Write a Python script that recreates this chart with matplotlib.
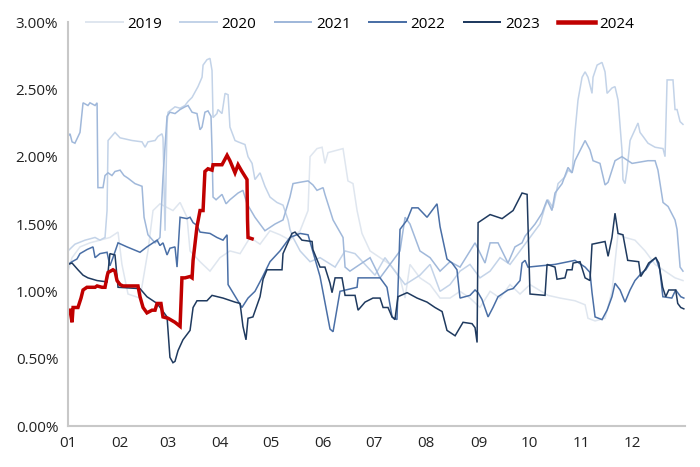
import matplotlib
matplotlib.use("Agg")
import matplotlib.pyplot as plt
from matplotlib.ticker import FuncFormatter

# (day of year, value in %)
s2019 = [(0,1.15),(2.4,1.25),(7.1,1.33),(13.0,1.36),(18.9,1.38),(24.8,1.40),(29.6,1.44),(31.9,1.20),(35.5,0.98),(42.6,0.95),
         (47.3,1.30),(50.3,1.60),(54.4,1.65),(62.1,1.60),(66.3,1.66),(70.4,1.55),(72.2,1.30),(78.1,1.22),(84.0,1.15),(89.9,1.25),
         (95.8,1.30),(101.8,1.28),(107.7,1.40),(113.6,1.35),(119.5,1.45),(125.4,1.42),(131.3,1.38),(137.3,1.45),(142.0,1.60),(143.2,2.00),
         (147.3,2.06),(150.3,2.07),(152.0,1.95),(153.8,2.03),(162.7,2.06),(165.6,1.82),(168.6,1.80),(171.0,1.60),(173.9,1.43),(178.7,1.30),
         (184.6,1.25),(190.5,1.20),(196.4,1.10),(199.4,0.95),(202.3,1.20),(208.2,1.10),(214.2,1.05),(220.1,0.95),(226.0,0.95),(231.9,1.00),
         (237.8,0.95),(243.7,0.88),(249.7,1.00),(255.6,0.95),(261.5,1.05),(267.4,0.98),(273.3,1.05),(284.0,0.97),(291.1,0.95),(299.9,0.93),
         (305.9,0.90),(307.6,0.80),(311.8,0.78),(317.7,0.80),(321.8,1.00),(325.4,1.43),(329.5,1.40),(335.4,1.38),(341.4,1.30),(347.3,1.20),
         (353.2,1.15),(359.1,1.10),(363.8,1.08)]

s2020 = [(0,1.30),(4.1,1.35),(10.1,1.38),(16.0,1.40),(18.9,1.38),(21.9,1.40),(23.1,1.60),(23.7,2.12),(27.8,2.18),(30.8,2.14),
         (37.9,2.12),(43.8,2.11),(45.6,2.07),(47.3,2.11),(51.5,2.12),(53.2,2.15),(55.6,2.17),(56.2,2.14),(57.4,1.45),(58.6,2.25),
         (59.2,2.33),(63.3,2.37),(66.3,2.36),(69.2,2.38),(71.0,2.41),(73.4,2.44),(76.9,2.52),(79.3,2.59),(79.9,2.68),(82.2,2.72),
         (84.0,2.73),(85.2,2.64),(85.8,2.29),(88.1,2.32),(88.7,2.35),(91.1,2.32),(92.9,2.47),(94.7,2.46),(95.8,2.22),(98.8,2.12),
         (100.6,2.11),(104.7,2.09),(106.5,2.00),(108.9,1.95),(110.6,1.83),(113.6,1.88),(116.5,1.78),(119.5,1.70),(123.6,1.66),(127.2,1.64),
         (130.2,1.53),(131.3,1.46),(133.1,1.40),(137.3,1.30),(143.2,1.22),(149.1,1.25),(158.0,1.18),(163.9,1.30),(169.8,1.28),(175.7,1.20),
         (181.6,1.12),(187.5,1.25),(193.4,1.15),(199.4,1.05),(208.2,1.12),(214.2,1.20),(220.1,1.00),(226.0,1.05),(231.9,1.15),(237.8,1.20),
         (243.7,1.10),(249.7,1.15),(255.6,1.25),(261.5,1.20),(267.4,1.30),(273.3,1.40),(279.2,1.50),(282.2,1.63),(284.0,1.68),(286.9,1.62),
         (289.9,1.80),(294.0,1.85),(295.8,1.90),(298.2,1.88),(299.9,2.18),(301.7,2.42),(304.1,2.59),(305.9,2.63),(307.6,2.59),(310.0,2.47),
         (310.6,2.59),(313.0,2.68),(315.9,2.70),(317.7,2.63),(318.9,2.47),(321.8,2.51),(323.6,2.52),(325.4,2.42),(327.7,2.05),(328.3,1.83),
         (329.5,1.80),(330.7,1.90),(332.5,2.12),(337.2,2.25),(338.4,2.18),(340.2,2.15),(343.1,2.10),(347.3,2.07),(352.0,2.06),(353.2,2.00),
         (354.4,2.57),(357.9,2.57),(359.1,2.35),(360.3,2.35),(362.1,2.26),(363.8,2.24)]

s2021 = [(0,2.15),(1.2,2.17),(2.4,2.11),(4.1,2.10),(7.1,2.18),(8.9,2.40),(11.8,2.38),(13.0,2.40),(16.0,2.38),(17.2,2.40),
         (17.7,1.77),(20.7,1.77),(21.9,1.86),(23.7,1.88),(26.0,1.86),(27.8,1.89),(30.8,1.90),(33.1,1.86),(35.5,1.84),(39.6,1.80),
         (43.8,1.78),(45.0,1.55),(47.3,1.42),(51.5,1.36),(54.4,1.40),(56.2,1.85),(58.6,2.30),(60.3,2.33),(63.3,2.32),(66.3,2.35),
         (69.2,2.37),(71.0,2.38),(73.4,2.33),(76.3,2.32),(78.1,2.20),(79.3,2.22),(81.0,2.33),(82.8,2.34),(84.6,2.30),(85.2,2.05),
         (85.8,1.70),(87.6,1.68),(91.1,1.72),(93.5,1.65),(95.8,1.68),(100.6,1.73),(103.5,1.75),(105.9,1.65),(110.6,1.55),(116.5,1.45),
         (122.5,1.50),(127.2,1.53),(131.3,1.70),(133.1,1.80),(137.3,1.81),(142.0,1.82),(144.9,1.79),(147.3,1.75),(150.9,1.77),(152.0,1.72),
         (156.8,1.53),(162.7,1.40),(163.9,1.18),(166.8,1.15),(172.7,1.20),(178.7,1.25),(184.6,1.10),(190.5,1.20),(196.4,1.30),(199.4,1.55),
         (202.3,1.50),(208.2,1.30),(214.2,1.25),(220.1,1.15),(226.0,1.22),(231.9,1.18),(240.8,1.36),(246.7,1.21),(249.7,1.36),(254.4,1.36),
         (260.3,1.21),(264.4,1.33),(268.6,1.36),(270.4,1.41),(276.3,1.50),(280.4,1.58),(283.4,1.68),(286.3,1.60),(288.1,1.73),(292.3,1.80),
         (295.8,1.92),(298.2,1.88),(299.9,1.97),(305.9,2.12),(308.8,2.05),(310.6,1.97),(314.7,1.95),(317.7,1.79),(319.5,1.81),(323.6,1.97),
         (327.7,2.00),(333.7,1.95),(343.1,1.97),(347.3,1.97),(349.0,1.90),(352.0,1.66),(355.0,1.63),(359.1,1.53),(360.3,1.46),(362.1,1.18),
         (363.8,1.15)]

s2022 = [(0,1.20),(2.4,1.22),(5.3,1.24),(7.1,1.28),(11.2,1.31),(14.8,1.33),(16.0,1.25),(18.9,1.28),(23.1,1.29),(24.8,1.19),
         (26.6,1.25),(29.6,1.36),(34.9,1.33),(42.6,1.29),(46.7,1.33),(52.7,1.38),(54.4,1.34),(56.2,1.36),(58.6,1.27),(60.3,1.32),
         (63.3,1.33),(64.5,1.18),(66.3,1.55),(70.4,1.54),(72.2,1.55),(74.0,1.51),(76.3,1.49),(78.1,1.44),(84.0,1.43),(88.1,1.40),
         (91.7,1.38),(94.1,1.42),(94.7,1.05),(100.0,0.94),(102.9,0.88),(106.5,0.95),(110.6,1.00),(114.8,1.10),(119.5,1.22),(125.4,1.30),
         (131.3,1.40),(137.3,1.43),(142.0,1.42),(149.1,1.11),(155.0,0.72),(156.8,0.70),(160.9,1.00),(171.0,1.03),(171.6,1.10),(184.6,1.10),
         (188.7,1.03),(191.7,0.81),(194.6,0.79),(196.4,1.46),(200.6,1.53),(203.5,1.62),(207.1,1.62),(212.4,1.55),(218.3,1.65),(220.1,1.48),
         (224.2,1.24),(227.2,1.21),(230.1,1.16),(231.9,0.95),(237.8,0.97),(240.8,1.01),(242.6,0.99),(244.9,0.94),(248.5,0.81),(251.4,0.88),
         (254.4,0.96),(260.3,1.01),(263.3,1.02),(267.4,1.08),(268.6,1.21),(270.4,1.23),(272.1,1.18),(288.1,1.20),(299.9,1.23),(305.9,1.18),
         (308.8,1.14),(310.0,0.99),(311.8,0.81),(315.9,0.79),(318.9,0.86),(321.8,0.96),(323.6,1.06),(326.6,1.01),(329.5,0.92),(332.5,1.01),
         (335.4,1.08),(339.6,1.14),(341.8,1.16),(344.3,1.21),(347.7,1.25),(350.1,1.16),(351.9,0.96),(357.2,0.95),(359.5,1.01),(362.5,0.96),
         (364.3,0.95)]

s2023 = [(0,1.20),(2.4,1.21),(5.9,1.16),(8.9,1.12),(11.8,1.10),(17.2,1.08),(23.1,1.07),(24.8,1.28),(27.8,1.27),(29.6,1.03),
         (42.6,1.02),(46.7,0.96),(52.7,0.91),(58.6,0.81),(60.3,0.51),(62.1,0.47),(63.3,0.48),(65.1,0.56),(68.0,0.64),(72.2,0.71),
         (74.0,0.88),(76.3,0.93),(82.2,0.93),(85.2,0.97),(91.7,0.95),(98.8,0.92),(101.8,0.91),(103.5,0.74),(105.3,0.64),(106.5,0.80),
         (109.4,0.81),(113.6,0.96),(115.4,1.09),(117.7,1.16),(126.6,1.16),(127.2,1.28),(132.5,1.43),(134.3,1.44),(138.4,1.38),(144.4,1.37),
         (144.9,1.31),(149.1,1.18),(152.0,1.18),(155.0,1.06),(156.2,0.99),(158.0,1.10),(162.1,1.10),(163.9,0.97),(169.8,0.97),(171.6,0.86),
         (175.7,0.92),(180.4,0.95),(184.6,0.95),(186.4,0.88),(189.3,0.88),(191.7,0.81),(193.4,0.79),(195.2,0.96),(200.6,0.99),(206.5,0.95),
         (212.4,0.92),(217.1,0.88),(221.3,0.85),(224.2,0.71),(229.0,0.67),(233.7,0.77),(239.0,0.76),(240.8,0.73),(242.0,0.62),(242.6,1.51),
         (249.7,1.57),(256.8,1.54),(263.3,1.60),(268.6,1.73),(271.6,1.72),(273.3,0.98),(282.2,0.97),(283.4,1.20),(288.1,1.18),(289.3,1.09),
         (294.0,1.10),(295.2,1.16),(298.2,1.16),(298.8,1.21),(302.9,1.22),(305.9,1.10),(308.8,1.08),(310.0,1.35),(317.7,1.37),(319.5,1.26),
         (321.8,1.40),(323.6,1.58),(325.4,1.43),(328.3,1.42),(331.1,1.23),(337.6,1.22),(338.8,1.11),(341.8,1.17),(343.5,1.21),(347.7,1.25),
         (349.5,1.21),(351.8,1.03),(353.6,0.96),(355.4,1.01),(359.5,1.01),(360.7,0.91),(362.5,0.88),(364.3,0.87)]

s2024 = [(0.5,0.86),(1.2,0.86),(2.4,0.77),(3.0,0.88),(5.9,0.88),(7.7,0.95),(8.9,1.01),(11.2,1.03),(16.0,1.03),(17.2,1.04),
         (20.1,1.03),(21.9,1.03),(23.1,1.11),(23.7,1.14),(26.6,1.16),(27.8,1.15),(29.0,1.08),(30.8,1.05),(32.5,1.04),(41.4,1.04),
         (42.6,0.96),(44.4,0.88),(46.7,0.84),(49.7,0.86),(51.5,0.86),(52.7,0.91),(55.0,0.91),(56.2,0.81),(59.2,0.80),(63.3,0.77),
         (66.3,0.74),(67.4,1.10),(69.2,1.10),(72.2,1.11),(73.4,1.10),(74.0,1.23),(76.3,1.48),(78.1,1.60),(79.9,1.60),(81.0,1.89),
         (82.8,1.91),(85.2,1.90),(85.8,1.94),(91.1,1.94),(94.1,2.01),(95.8,1.97),(98.8,1.88),(100.6,1.94),(102.9,1.89),(105.9,1.83),
         (106.2,1.53),(106.5,1.40),(108.9,1.39)]

years = ["2019", "2020", "2021", "2022", "2023", "2024"]
series = [s2019, s2020, s2021, s2022, s2023, s2024]
colors = ["#dfe6ef", "#c3d3e8", "#a0b8da", "#4a6fa6", "#1f3a5f", "#c00000"]
widths = [1.1, 1.1, 1.1, 1.1, 1.1, 2.5]

month_pos = [0, 31, 59, 90, 120, 151, 181, 212, 243, 273, 304, 334]
month_labels = ["01", "02", "03", "04", "05", "06", "07", "08", "09", "10", "11", "12"]

plt.rcParams['font.family'] = ['Open Sans', 'DejaVu Sans']

fig = plt.figure(figsize=(7.0, 4.67), dpi=100)
ax = fig.add_axes([68/700, 41/467, 617/700, 404/467])

for name, s, c, w in zip(years, series, colors, widths):
    xs = [p[0] for p in s]
    ys = [p[1] for p in s]
    ax.plot(xs, ys, color=c, lw=w, label=name, solid_joinstyle='miter')

ax.set_xlim(0, 365)
ax.set_ylim(0, 3.0)
ax.set_yticks([0, 0.5, 1.0, 1.5, 2.0, 2.5, 3.0])
ax.yaxis.set_major_formatter(FuncFormatter(lambda v, p: f"{v:.2f}%"))
ax.set_xticks(month_pos)
ax.set_xticklabels(month_labels)
ax.tick_params(axis='both', length=0, labelsize=11, colors='#222222')
ax.tick_params(axis='x', pad=7)
ax.tick_params(axis='y', pad=7)
for side in ['top', 'right']:
    ax.spines[side].set_visible(False)
for side in ['left', 'bottom']:
    ax.spines[side].set_color('#c8c8c8')
    ax.spines[side].set_linewidth(1.5)

leg = fig.legend(loc='center', bbox_to_anchor=(360/700, 1 - 24/467), ncol=6, frameon=False,
                 fontsize=11, handlelength=2.4, handletextpad=0.3, columnspacing=1.2)
for line in leg.get_lines():
    line.set_linewidth(line.get_linewidth() * 1.3)

fig.savefig("out.png", dpi=100)
